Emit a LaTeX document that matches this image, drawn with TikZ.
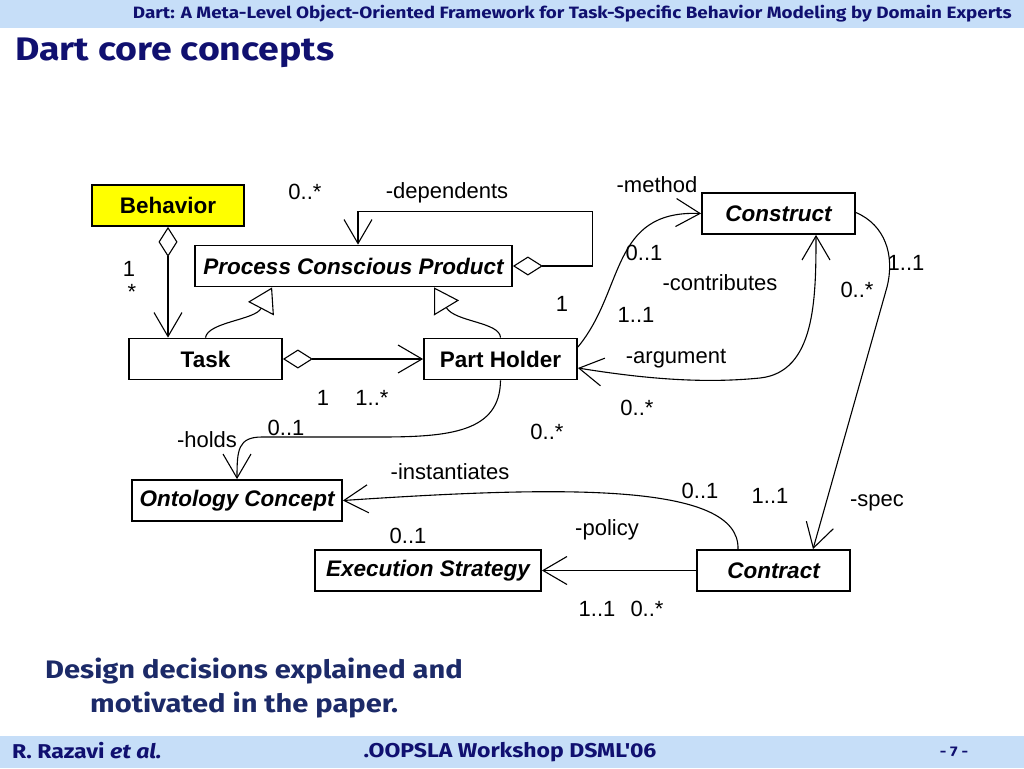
\documentclass[tikz,border=0pt]{standalone}
\usepackage{fontspec}
\setmainfont{Liberation Sans}
\newfontfamily\comic[FakeStretch=1.15]{Fira Sans}
\usetikzlibrary{arrows.meta,calc}
\definecolor{band}{RGB}{198,222,248}
\definecolor{navy}{RGB}{16,16,112}
\definecolor{navytwo}{RGB}{28,42,104}
\definecolor{boxyellow}{RGB}{255,255,0}
\tikzset{
  cls/.style={draw,line width=1.8pt,minimum height=41pt,inner sep=0pt,font=\fontsize{22.5}{26}\selectfont\bfseries},
  abs/.style={cls,font=\fontsize{22.5}{26}\selectfont\bfseries\itshape},
  lbl/.style={inner sep=0pt,font=\fontsize{22}{26}\selectfont},
  conn/.style={line width=1.1pt},
  nav/.style={conn,-{Straight Barb[length=24pt,width=28pt,line width=1.1pt]}},
  both/.style={conn,{Straight Barb[length=24pt,width=28pt,line width=1.1pt]}-{Straight Barb[length=24pt,width=28pt,line width=1.1pt]}},
  agg/.style={conn,{Diamond[open,length=30pt,width=19pt,line width=1.1pt]}-{Straight Barb[length=24pt,width=28pt,line width=1.1pt]}},
  gen/.style={conn,-{Triangle[open,length=24pt,width=29pt,line width=1.1pt]}},
  hdr/.style={inner sep=0pt,text=navy,font=\comic\bfseries}
}
\begin{document}
\begin{tikzpicture}[x=1pt,y=-1pt]
\useasboundingbox (0,0) rectangle (1024,768);
% bands
\fill[band] (0,0) rectangle (1024,28);
\fill[band] (0,736) rectangle (1024,768);
\node[hdr,anchor=east,font=\comic\bfseries\fontsize{16.4}{19}\selectfont] (head) at (1012,14) {Dart: A Meta-Level Object-Oriented Framework for Task-Specific Behavior Modeling by Domain Experts};
\node[hdr,anchor=west,font=\comic\bfseries\fontsize{32.6}{38}\selectfont] (title) at (15,53) {Dart core concepts};
\node[hdr,anchor=west,text=navytwo,font=\comic\bfseries\fontsize{25.3}{34}\selectfont] (d1) at (45,671) {Design decisions explained and};
\node[hdr,anchor=west,text=navytwo,font=\comic\bfseries\fontsize{25.3}{34}\selectfont] (d2) at (90,705) {motivated in the paper.};
\node[hdr,anchor=west,font=\comic\bfseries\fontsize{20}{23}\selectfont] (f1) at (12,751) {R. Razavi \textit{et al.}};
\node[hdr,font=\comic\bfseries\fontsize{20}{23}\selectfont] (f2) at (510,752) {.OOPSLA Workshop DSML'06};
\node[hdr,font=\comic\bfseries\fontsize{14}{16}\selectfont] (f3) at (954,752) {- 7 -};

% classes
\node[cls,fill=boxyellow,minimum width=152pt] (beh) at (168,205.5) {Behavior};
\node[abs,minimum width=317pt] (pcp) at (353.5,266) {Process Conscious Product};
\node[abs,minimum width=153pt] (con) at (778.5,213.5) {Construct};
\node[cls,minimum width=153pt] (task) at (205.5,359) {Task};
\node[cls,minimum width=153pt] (ph) at (500.5,359) {Part Holder};
\node[abs,minimum width=210pt] (oc) at (237,500.5) {Ontology Concept};
\node[abs,minimum width=226pt] (es) at (428,570.5) {Execution Strategy};
\node[abs,minimum width=153pt] (ct) at (773.5,570.5) {Contract};

% coordinates
\coordinate (pcpR) at ($(pcp.east)+(80,0)$);
\coordinate (pcpT) at ($(pcp.north)+(4.5,-33)$);
\coordinate (pcpA) at ($(pcp.south west)+(78,0)$);
\coordinate (pcpB) at ($(pcp.south west)+(240,0)$);
\coordinate (phNE) at ($(ph.east)+(0,-12)$);
\coordinate (phSE) at ($(ph.east)+(0,9)$);
\coordinate (conS) at ($(con.south)+(37.5,0)$);
\coordinate (conE) at ($(con.east)+(0,-1)$);
\coordinate (ctN) at ($(ct.north)+(39.5,0)$);
\coordinate (ctNL) at ($(ct.north)+(-35.5,0)$);

% connectors
\draw[agg] (beh.south) -- (beh.south |- task.north);
\draw[agg] (pcp.east) -- (pcpR) |- (pcpT) -- (pcpT |- pcp.north);
\draw[gen] (task.north) .. controls (208,322) and (255,320) .. (pcpA);
\draw[gen] (ph.north) .. controls (500,322) and (455,322) .. (pcpB);
\draw[agg] (task.east) -- (ph.west);
\draw[nav] (ph.south) .. controls (500,432) and (450,437) .. (380,437) -- (262,437) .. controls (238,437) and (237,450) .. (oc.north);
\draw[nav] (phNE) .. controls (625,290) and (610,210) .. (con.west);
\draw[both] (conS) .. controls (816,300) and (815,372) .. (760,378) .. controls (700,384) and (640,378) .. (phSE);
\draw[nav] (conE) .. controls (885,225) and (895,255) .. (887,287) -- (ctN);
\draw[nav] (ctNL) .. controls (740,482) and (560,486) .. (oc.east);
\draw[nav] (ct.west) -- (es.east);

% labels
\node[lbl] (l1) at (305,192) {0..*};
\node[lbl] (l2) at (447,193) {-dependents};
\node[lbl] (l3) at (657,185) {-method};
\node[lbl] (l4) at (129,269) {1};
\node[lbl] (l5) at (132,292) {*};
\node[lbl] (l6) at (644,253) {0..1};
\node[lbl] (l7) at (720,283) {-contributes};
\node[lbl] (l8) at (906,263) {1..1};
\node[lbl] (l9) at (857,290) {0..*};
\node[lbl] (l10) at (562,304) {1};
\node[lbl] (l11) at (636,315) {1..1};
\node[lbl] (l12) at (676,359) {-argument};
\node[lbl] (l13) at (323,398) {1};
\node[lbl] (l14) at (372,398) {1..*};
\node[lbl] (l15) at (637,408) {0..*};
\node[lbl] (l16) at (207,440) {-holds};
\node[lbl] (l17) at (286,428) {0..1};
\node[lbl] (l18) at (547,432) {0..*};
\node[lbl] (l19) at (450,472) {-instantiates};
\node[lbl] (l20) at (700,491) {0..1};
\node[lbl] (l21) at (770,496) {1..1};
\node[lbl] (l22) at (877,503) {-spec};
\node[lbl] (l23) at (607,530) {-policy};
\node[lbl] (l24) at (408,536) {0..1};
\node[lbl] (l25) at (597,609) {1..1};
\node[lbl] (l26) at (647,609) {0..*};
\end{tikzpicture}
\end{document}
